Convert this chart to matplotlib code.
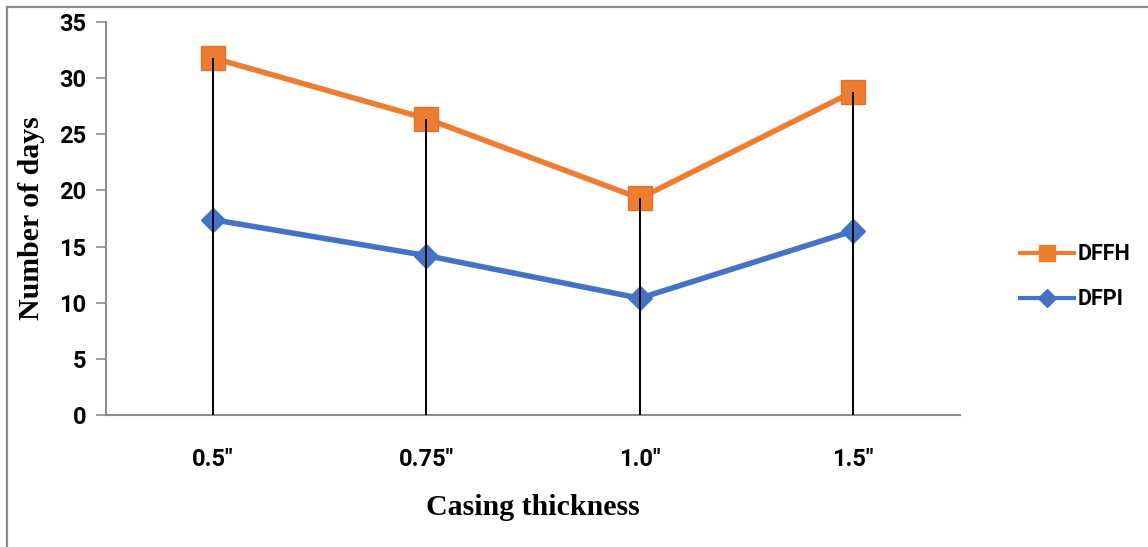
import matplotlib
matplotlib.use("Agg")
import matplotlib.pyplot as plt
from matplotlib.lines import Line2D

categories = ["0.5\u2033", "0.75\u2033", "1.0\u2033", "1.5\u2033"]
dffh = [31.8, 26.4, 19.3, 28.8]
dfpi = [17.4, 14.2, 10.4, 16.4]
yticks = [0, 5, 10, 15, 20, 25, 30, 35]

ORANGE = "#ED7D31"
BLUE = "#4472C4"
GRAY = "#8c8c8c"
tickfont = ["Roboto", "DejaVu Sans"]
serif = ["Liberation Serif", "DejaVu Serif"]

fig = plt.figure(figsize=(11.48, 5.47), dpi=100)
ax = fig.add_axes([0.0923, 0.2413, 0.744, 0.7185])

x = list(range(len(categories)))
ax.plot(x, dffh, color=ORANGE, lw=4.0, marker="s", markersize=17,
        markerfacecolor=ORANGE, markeredgecolor="#E5722A", markeredgewidth=1,
        zorder=3, label="DFFH")
ax.plot(x, dfpi, color=BLUE, lw=4.0, marker="D", markersize=12,
        markerfacecolor=BLUE, markeredgecolor=BLUE, zorder=3, label="DFPI")

tops = [max(a, b) for a, b in zip(dffh, dfpi)]
ax.vlines(x, 0, tops, color="black", lw=1.4, zorder=4)

ax.set_xlim(-0.5, 3.5)
ax.set_ylim(0, 35)
ax.set_yticks(yticks)
ax.set_xticks(x)
ax.set_xticklabels(categories, fontfamily=tickfont, fontweight="bold", fontsize=17)
ax.set_yticklabels([str(t) for t in yticks], fontfamily=tickfont, fontweight="bold", fontsize=17)

for s in ["top", "right"]:
    ax.spines[s].set_visible(False)
for s in ["left", "bottom"]:
    ax.spines[s].set_color(GRAY)
    ax.spines[s].set_linewidth(1.5)
ax.tick_params(axis="y", length=7, width=1.2, color=GRAY, pad=7)
ax.tick_params(axis="x", length=0, pad=24)

ax.set_ylabel("Number of days", fontfamily=serif, fontweight="bold", fontsize=21.5, labelpad=10)
ax.set_xlabel("Casing thickness", fontfamily=serif, fontweight="bold", fontsize=21.5, labelpad=16)

handles = [
    Line2D([], [], color=ORANGE, lw=3, marker="s", markersize=12, markerfacecolor=ORANGE, markeredgecolor=ORANGE),
    Line2D([], [], color=BLUE, lw=3, marker="D", markersize=9, markerfacecolor=BLUE, markeredgecolor=BLUE),
]
fig.legend(handles, ["DFFH", "DFPI"], loc="center left", bbox_to_anchor=(0.872, 0.494),
           frameon=False, prop={"family": tickfont, "weight": "bold", "size": 15.5},
           handlelength=2.5, handletextpad=0.15, labelspacing=1.05)

# figure border (top and left visible)
fig.add_artist(Line2D([6.5/1148, 6.5/1148], [0, 1 - 6.5/547], transform=fig.transFigure, color=GRAY, lw=1.6))
fig.add_artist(Line2D([6.5/1148, 1], [1 - 6.5/547, 1 - 6.5/547], transform=fig.transFigure, color=GRAY, lw=1.6))

fig.savefig("out.png", dpi=100)
